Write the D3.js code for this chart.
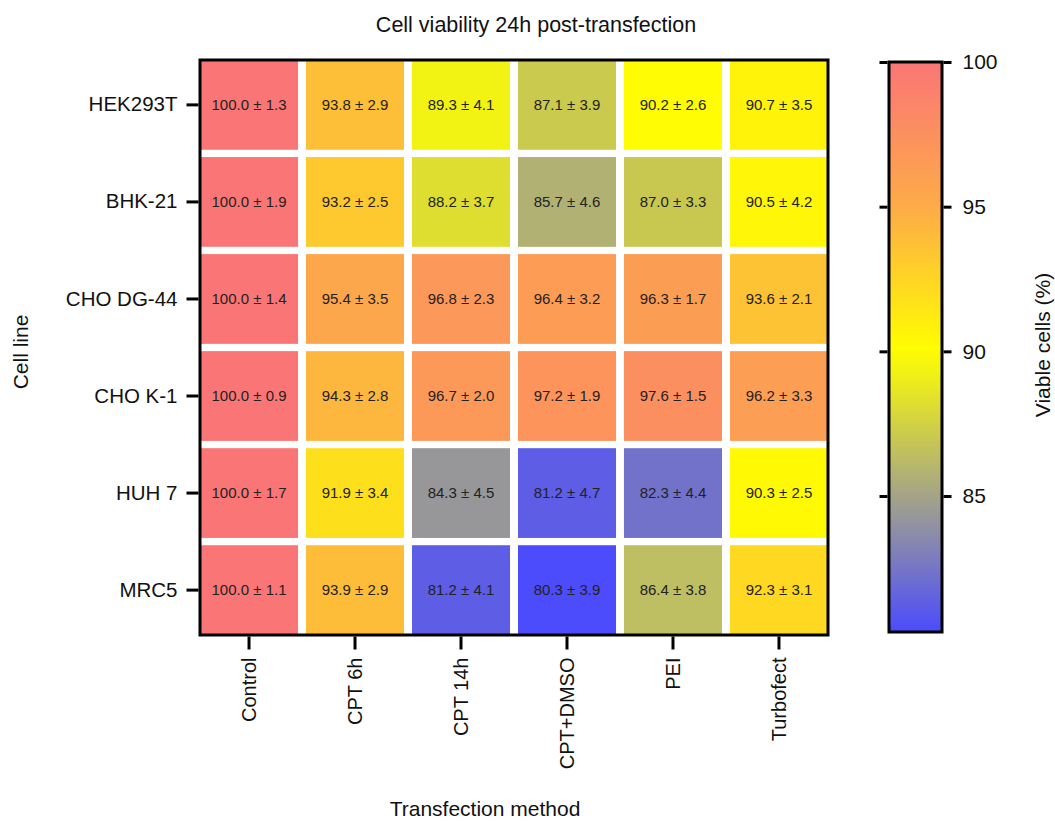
<!DOCTYPE html>
<head>
  <meta charset="utf-8">
  <script src="https://d3js.org/d3.v7.min.js"></script>
  <style>
    body { margin:0; background:#fff; font-family: "Liberation Sans", Arial, sans-serif; }
  </style>
</head>
<body>
  <script>
    var cellLines = ["HEK293T", "BHK-21", "CHO DG-44", "CHO K-1", "HUH 7", "MRC5"];
    var methods = ["Control", "CPT 6h", "CPT 14h", "CPT+DMSO", "PEI", "Turbofect"];
    // mean viability per cell line (rows), in method order
    var means = [
      [100.0, 93.8, 89.3, 87.1, 90.2, 90.7],
      [100.0, 93.2, 88.2, 85.7, 87.0, 90.5],
      [100.0, 95.4, 96.8, 96.4, 96.3, 93.6],
      [100.0, 94.3, 96.7, 97.2, 97.6, 96.2],
      [100.0, 91.9, 84.3, 81.2, 82.3, 90.3],
      [100.0, 93.9, 81.2, 80.3, 86.4, 92.3]
    ];
    var errors = [
      [1.3, 2.9, 4.1, 3.9, 2.6, 3.5],
      [1.9, 2.5, 3.7, 4.6, 3.3, 4.2],
      [1.4, 3.5, 2.3, 3.2, 1.7, 2.1],
      [0.9, 2.8, 2.0, 1.9, 1.5, 3.3],
      [1.7, 3.4, 4.5, 4.7, 4.4, 2.5],
      [1.1, 2.9, 4.1, 3.9, 3.8, 3.1]
    ];
    var colorTicks = [85, 90, 95, 100];

    var W = 1055, H = 821;
    var svg = d3.select("body").append("svg")
      .attr("width", W)
      .attr("height", H);

    var pLeft = 200, pRight = 828, pTop = 60, pBottom = 635;

    var x = d3.scaleBand().domain(methods).range([pLeft, pRight]).paddingInner(0.075).paddingOuter(0);
    var y = d3.scaleBand().domain(cellLines).range([pTop, pBottom]).paddingInner(0.075).paddingOuter(0);

    var color = d3.scaleLinear()
      .domain([80.2, 84.5, 90, 95, 100])
      .range(["#4a4aff", "#9b9b95", "#ffff00", "#fdab48", "#fa7676"])
      .clamp(true);

    var data = [];
    cellLines.forEach(function(c, i) {
      methods.forEach(function(m, j) {
        data.push({ line: c, method: m, mean: means[i][j], err: errors[i][j] });
      });
    });

    // cells
    svg.append("g").selectAll("rect")
      .data(data)
      .enter().append("rect")
      .attr("x", function(d) { return x(d.method); })
      .attr("y", function(d) { return y(d.line); })
      .attr("width", x.bandwidth())
      .attr("height", y.bandwidth())
      .style("fill", function(d) { return color(d.mean); });

    svg.append("g").selectAll("text")
      .data(data)
      .enter().append("text")
      .attr("x", function(d) { return x(d.method) + x.bandwidth() / 2; })
      .attr("y", function(d) { return y(d.line) + y.bandwidth() / 2; })
      .attr("dy", "0.35em")
      .attr("text-anchor", "middle")
      .style("font-size", "15px")
      .style("fill", "#222")
      .text(function(d) { return d.mean.toFixed(1) + " \u00b1 " + d.err.toFixed(1); });

    // frame
    svg.append("rect")
      .attr("x", pLeft).attr("y", pTop)
      .attr("width", pRight - pLeft).attr("height", pBottom - pTop)
      .style("fill", "none").style("stroke", "#000").style("stroke-width", 3);

    var xaxis = svg.append("g")
      .attr("transform", "translate(0," + (pBottom + 1.5) + ")")
      .call(d3.axisBottom(x).tickSize(13).tickSizeOuter(0));
    xaxis.select(".domain").remove();
    xaxis.selectAll("line").style("stroke-width", 3);
    xaxis.selectAll("text")
      .attr("transform", "rotate(-90)")
      .attr("text-anchor", "end")
      .attr("x", -21).attr("y", 0).attr("dy", "0.35em")
      .style("font-family", "Liberation Sans, Arial, sans-serif")
      .style("font-size", "20px")
      .style("fill", "#111");

    var yaxis = svg.append("g")
      .attr("transform", "translate(" + (pLeft - 1.5) + ",0)")
      .call(d3.axisLeft(y).tickSize(12).tickSizeOuter(0).tickPadding(9));
    yaxis.select(".domain").remove();
    yaxis.selectAll("line").style("stroke-width", 3);
    yaxis.selectAll("text")
      .style("font-family", "Liberation Sans, Arial, sans-serif")
      .style("font-size", "20.5px")
      .style("fill", "#111");

    // titles
    svg.append("text")
      .attr("x", 536).attr("y", 32)
      .attr("text-anchor", "middle")
      .style("font-size", "21.5px").style("fill", "#111")
      .text("Cell viability 24h post-transfection");

    svg.append("text")
      .attr("x", 485).attr("y", 816)
      .attr("text-anchor", "middle")
      .style("font-size", "21px").style("fill", "#111")
      .text("Transfection method");

    svg.append("text")
      .attr("transform", "translate(28,352) rotate(-90)")
      .attr("text-anchor", "middle")
      .style("font-size", "21px").style("fill", "#111")
      .text("Cell line");

    // colour bar
    var cbLeft = 889, cbRight = 942, cbTop = 62, cbBottom = 632;
    var cy = d3.scaleLinear().domain([80.3, 100]).range([cbBottom, cbTop]);

    var defs = svg.append("defs");
    var grad = defs.append("linearGradient")
      .attr("id", "cbgrad")
      .attr("x1", 0).attr("y1", 1).attr("x2", 0).attr("y2", 0);
    d3.range(0, 21).forEach(function(i) {
      var v = 80.3 + (100 - 80.3) * i / 20;
      grad.append("stop")
        .attr("offset", (i / 20 * 100) + "%")
        .attr("stop-color", color(v));
    });

    svg.append("rect")
      .attr("x", cbLeft).attr("y", cbTop)
      .attr("width", cbRight - cbLeft).attr("height", cbBottom - cbTop)
      .style("fill", "url(#cbgrad)")
      .style("stroke", "#000").style("stroke-width", 3);

    var cbAxisR = svg.append("g")
      .attr("transform", "translate(" + (cbRight + 1.5) + ",0)")
      .call(d3.axisRight(cy).tickValues(colorTicks).tickSize(8).tickPadding(11).tickFormat(d3.format("d")));
    cbAxisR.select(".domain").remove();
    cbAxisR.selectAll("line").style("stroke-width", 3);
    cbAxisR.selectAll("text")
      .style("font-family", "Liberation Sans, Arial, sans-serif")
      .style("font-size", "21px").style("fill", "#111");

    var cbAxisL = svg.append("g")
      .attr("transform", "translate(" + (cbLeft - 1.5) + ",0)")
      .call(d3.axisLeft(cy).tickValues(colorTicks).tickSize(8).tickFormat(""));
    cbAxisL.select(".domain").remove();
    cbAxisL.selectAll("line").style("stroke-width", 3);

    svg.append("text")
      .attr("transform", "translate(1050,345) rotate(-90)")
      .attr("text-anchor", "middle")
      .style("font-size", "21px").style("fill", "#111")
      .text("Viable cells (%)");
  </script>
</body>
